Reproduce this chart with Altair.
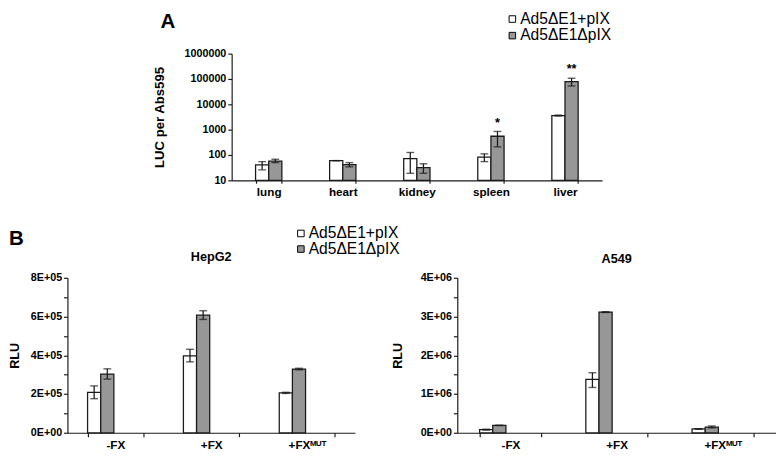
import altair as alt
import pandas as pd

F = "Liberation Sans"
INK = "#1a1a1a"

virus = ["Ad5ΔE1+pIX", "Ad5ΔE1ΔpIX"]
fills = ["#ffffff", "#979797"]

# ---- Panel A (log scale) ----
organs = ["lung", "heart", "kidney", "spleen", "liver"]
a_plus_mean = [41, 60, 72, 83, 3600]
a_plus_low = [26, 60, 19, 55, 3450]
a_plus_high = [55, 60, 126, 111, 3750]
a_dpix_mean = [57, 42, 32, 550, 79000]
a_dpix_low = [50, 34, 19, 210, 53000]
a_dpix_high = [68, 50, 45, 850, 107000]
a_stars = ["", "", "", "*", "**"]
a_ticks = [10, 100, 1000, 10000, 100000, 1000000]

# ---- Panel B ----
conds = ["-FX", "+FX", "+FXᴹᵁᵀ"]
hep_plus_mean = [208000, 397000, 206000]
hep_plus_low = [176000, 366000, 203000]
hep_plus_high = [242000, 431000, 209000]
hep_dpix_mean = [303000, 607000, 329000]
hep_dpix_low = [277000, 585000, 325000]
hep_dpix_high = [330000, 630000, 333000]
hep_ticks = [0, 100000, 200000, 300000, 400000, 500000, 600000, 700000, 800000]
hep_tick_labels = ["0E+00", "", "2E+05", "", "4E+05", "", "6E+05", "", "8E+05"]

a549_plus_mean = [80000, 1376000, 100000]
a549_plus_low = [70000, 1170000, 90000]
a549_plus_high = [90000, 1550000, 105000]
a549_dpix_mean = [190000, 3115000, 145000]
a549_dpix_low = [185000, 3105000, 125000]
a549_dpix_high = [195000, 3125000, 175000]
a549_ticks = [0, 500000, 1000000, 1500000, 2000000, 2500000, 3000000, 3500000, 4000000]
a549_tick_labels = ["0E+00", "", "1E+06", "", "2E+06", "", "3E+06", "", "4E+06"]


def long_df(cats, series, stars=None):
    rows = []
    for vi, (means, lows, highs) in enumerate(series):
        for i, c in enumerate(cats):
            rows.append({
                "cat": c, "virus": virus[vi], "mean": means[i],
                "low": lows[i], "high": highs[i],
                "star": (stars[i] if (stars is not None and vi == 1) else ""),
            })
    return pd.DataFrame(rows)


def label_expr(values, labels):
    parts = [f"abs(datum.value - {v}) < 1 ? '{l}'" for v, l in zip(values, labels) if l]
    return " : ".join(parts) + " : ''"


def panel(df, cats, pad_inner, yscale, yaxis, xaxis, legend, width, height, extra=None):
    base = alt.Chart(df)
    x = alt.X("cat:N", sort=cats, axis=xaxis,
              scale=alt.Scale(paddingInner=pad_inner, paddingOuter=pad_inner / 2))
    xo = alt.XOffset("virus:N", sort=virus, scale=alt.Scale(paddingInner=0, paddingOuter=0))

    def y(field):
        return alt.Y(f"{field}:Q", scale=yscale, axis=yaxis)

    bars = base.mark_bar(stroke=INK, strokeWidth=1.3).encode(
        x=x, xOffset=xo, y=y("mean"), y2=alt.datum(yscale.domain[0]),
        fill=alt.Fill("virus:N", sort=virus,
                      scale=alt.Scale(domain=virus, range=fills), legend=legend),
    )
    rule = base.mark_rule(color=INK, strokeWidth=1.3).encode(
        x=x, xOffset=xo, y=y("low"), y2="high:Q")
    cap_lo = base.mark_tick(orient="horizontal", size=8, thickness=1.4, color=INK).encode(
        x=x, xOffset=xo, y=y("low"))
    cap_hi = base.mark_tick(orient="horizontal", size=8, thickness=1.4, color=INK).encode(
        x=x, xOffset=xo, y=y("high"))
    layers = [bars, rule, cap_lo, cap_hi]
    if extra:
        layers += extra(base, x, xo, y)
    return alt.layer(*layers).properties(width=width, height=height)


def legend_at(lx, ly, row_pad):
    return alt.Legend(
        title=None, orient="none", legendX=lx, legendY=ly, padding=0,
        symbolType="square", symbolSize=45, symbolStrokeColor="black",
        symbolStrokeWidth=1, symbolOpacity=1, labelFont=F, labelFontSize=16,
        labelFontWeight="normal", labelColor="black", labelOffset=0,
        rowPadding=row_pad,
    )


def note(txt, px, py, size=21, opacity=1, align="left"):
    return alt.Chart(pd.DataFrame({"t": [txt]})).mark_text(
        font=F, fontSize=size, fontWeight="bold", align=align,
        baseline="alphabetic", color="black", opacity=opacity,
    ).encode(text="t:N", x=alt.value(px), y=alt.value(py))


# ---- Panel A ----
dfA = long_df(organs, [(a_plus_mean, a_plus_low, a_plus_high),
                       (a_dpix_mean, a_dpix_low, a_dpix_high)], a_stars)
yscaleA = alt.Scale(type="log", domain=[10, 1000000])
yaxisA = alt.Axis(title="LUC per Abs595", values=a_ticks, format="d", grid=False,
                  tickSize=4, labelPadding=2, titlePadding=18, titleFontSize=13.5,
                  labelFontSize=11)
xaxisA = alt.Axis(title=None, labelAngle=0, tickBand="extent", tickSize=3,
                  labelPadding=4, labelFontSize=12)


def starsA(base, x, xo, y):
    st = base.mark_text(font=F, fontSize=13, fontWeight="bold", baseline="alphabetic",
                        dy=-5, color="black").encode(x=x, xOffset=xo, y=y("high"), text="star:N")
    return [st, note("A", -73, -26.5)]


chartA = panel(dfA, organs, 0.645, yscaleA, yaxisA, xaxisA,
               legend_at(280, -43.5, 1), 380, 130, starsA)

# ---- Panel B ----
legendB = legend_at(231.5, -53.5, 0)
xaxisB = alt.Axis(title=None, labelAngle=0, tickBand="extent", tickSize=4,
                  labelPadding=3, labelFontSize=12)

dfH = long_df(conds, [(hep_plus_mean, hep_plus_low, hep_plus_high),
                      (hep_dpix_mean, hep_dpix_low, hep_dpix_high)])
yscaleH = alt.Scale(domain=[0, 800000])
yaxisH = alt.Axis(title="RLU", values=hep_ticks, labelExpr=label_expr(hep_ticks, hep_tick_labels),
                  grid=False, tickSize=4, labelPadding=2, titlePadding=9, titleFontSize=13,
                  labelFontSize=11)
W_H, W_L, H_B = 295, 327, 159

chartH = panel(dfH, conds, 0.42, yscaleH, yaxisH, xaxisB, legendB, W_H, H_B,
               lambda base, x, xo, y: [note("B", -60, -34),
                                       note("HepG2", W_H / 2, -17, size=13, align="center")])

dfL = long_df(conds, [(a549_plus_mean, a549_plus_low, a549_plus_high),
                      (a549_dpix_mean, a549_dpix_low, a549_dpix_high)])
yscaleL = alt.Scale(domain=[0, 4000000])
yaxisL = alt.Axis(title="RLU", values=a549_ticks, labelExpr=label_expr(a549_ticks, a549_tick_labels),
                  grid=False, tickSize=4, labelPadding=2, titlePadding=16, titleFontSize=13,
                  labelFontSize=11)

chartL = panel(dfL, conds, 0.42, yscaleL, yaxisL, xaxisB, legendB, W_L, H_B,
               lambda base, x, xo, y: [note("B", -40, -34, opacity=0),
                                       note("A549", W_L / 2, -15, size=13, align="center")])

bottom = alt.hconcat(chartH, chartL, spacing=37).resolve_scale(
    fill="shared").resolve_legend(fill="shared")

chart = alt.vconcat(chartA, bottom, spacing=28, center=True).resolve_scale(
    fill="independent").resolve_legend(fill="independent").properties(
    padding={"top": -3, "left": 0, "right": 0, "bottom": 0}).configure_view(
    stroke=None).configure_axis(
    labelFont=F, labelFontWeight="bold", labelColor="black",
    titleFont=F, titleFontWeight="bold", titleColor="black",
    domainColor=INK, tickColor=INK, domainWidth=1.2, tickWidth=1.2,
)

chart.save("out.html", embed_options={"renderer": "svg", "actions": False})
